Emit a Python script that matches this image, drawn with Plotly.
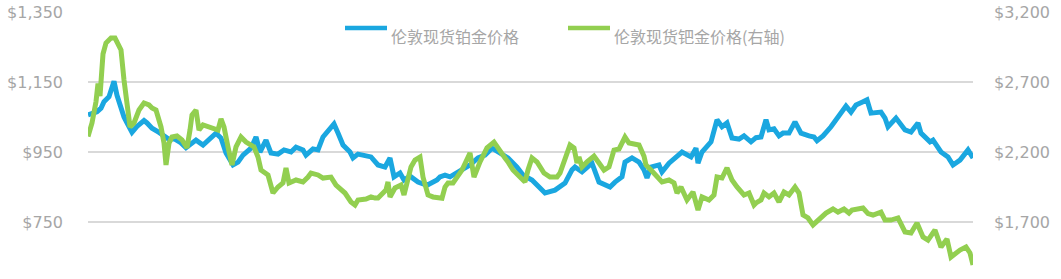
import plotly.graph_objects as go

# time offset (trading-day index) and London spot platinum price (left axis, USD/oz)
plat_t = [0, 9, 13, 16, 21, 26, 29, 33, 36, 39, 44, 49, 56, 59, 64, 71, 78, 81, 86, 93, 98, 103, 108,
          115, 123, 128, 133, 138, 145, 150, 155, 163, 168, 172, 178, 183, 190, 196, 203, 208, 215, 218,
          225, 230, 235, 242, 246, 250, 255, 262, 265, 270, 278, 283, 290, 297, 302, 306, 312, 316, 322,
          330, 339, 349, 352, 357, 362, 369, 375, 382, 390, 397, 404, 407, 414, 420, 429, 435, 444, 451,
          457, 467, 477, 484, 487, 494, 504, 511, 522, 527, 534, 537, 544, 551, 556, 559, 563, 571, 574,
          581, 588, 594, 603, 608, 610, 614, 623, 626, 629, 634, 639, 644, 651, 656, 663, 668, 673, 678,
          681, 686, 691, 695, 701, 707, 713, 721, 726, 729, 735, 743, 751, 758, 763, 768, 774, 779, 783,
          793, 797, 800, 808, 817, 823, 830, 833, 842, 845, 853, 860, 865, 872, 877, 880, 885]
plat = [1056, 1065, 1075, 1094, 1108, 1152, 1112, 1070, 1050, 1033, 1006, 1023, 1040, 1033, 1018, 1006,
        993, 986, 988, 976, 962, 974, 984, 970, 993, 1004, 990, 947, 913, 921, 941, 961, 993, 950, 984,
        947, 944, 956, 950, 964, 956, 941, 959, 956, 993, 1019, 1030, 1004, 970, 950, 933, 944, 941, 936,
        913, 907, 933, 879, 890, 870, 881, 864, 855, 870, 879, 884, 879, 890, 899, 913, 933, 941, 961,
        956, 941, 933, 907, 884, 870, 850, 833, 841, 861, 899, 907, 893, 918, 864, 850, 864, 879, 921,
        933, 921, 899, 876, 907, 913, 893, 918, 933, 950, 936, 961, 918, 950, 979, 1013, 1042, 1022,
        1033, 990, 987, 996, 979, 991, 993, 1042, 1013, 1016, 996, 1004, 1004, 1036, 1004, 996, 993,
        982, 996, 1022, 1056, 1081, 1064, 1084, 1092, 1099, 1061, 1064, 1047, 1022, 1047, 1013, 1007,
        1033, 1004, 979, 984, 950, 936, 913, 927, 944, 956, 933]

# London spot palladium price (right axis, USD/oz)
pall_t = [0, 4, 8, 10, 12, 15, 18, 23, 27, 29, 33, 36, 39, 42, 46, 51, 56, 61, 64, 68, 73, 76, 78, 81,
          84, 89, 94, 99, 102, 104, 108, 111, 115, 123, 130, 133, 136, 140, 144, 148, 153, 158, 163, 166,
          170, 173, 180, 185, 190, 195, 198, 201, 208, 215, 220, 223, 230, 235, 243, 248, 257, 263, 267,
          270, 278, 283, 287, 290, 295, 298, 300, 302, 307, 313, 316, 320, 323, 327, 332, 335, 340, 345,
          354, 357, 360, 365, 369, 374, 382, 386, 392, 399, 406, 412, 417, 420, 425, 432, 437, 440, 444,
          449, 456, 462, 469, 472, 477, 482, 486, 489, 491, 494, 499, 506, 511, 516, 521, 526, 531, 537,
          541, 546, 551, 556, 558, 563, 569, 574, 581, 586, 589, 593, 599, 605, 610, 614, 621, 626, 629,
          634, 639, 644, 649, 656, 661, 666, 668, 673, 676, 681, 686, 691, 696, 701, 707, 711, 715, 720,
          725, 731, 738, 745, 750, 756, 761, 764, 775, 780, 785, 793, 797, 803, 810, 817, 823, 829, 835,
          840, 847, 853, 859, 863, 872, 878, 882, 885]
pall = [2310, 2407, 2560, 2690, 2600, 2900, 2979, 3014, 3014, 2986, 2929, 2714, 2521, 2379, 2407, 2500,
        2550, 2536, 2514, 2500, 2379, 2264, 2107, 2264, 2307, 2314, 2286, 2229, 2357, 2464, 2500, 2357,
        2393, 2371, 2357, 2436, 2379, 2236, 2107, 2236, 2307, 2271, 2250, 2236, 2164, 2071, 2036, 1907,
        1950, 1979, 2086, 1979, 2000, 1986, 2021, 2050, 2036, 2014, 2021, 1964, 1907, 1843, 1821, 1857,
        1864, 1879, 1871, 1871, 1907, 1929, 1986, 1879, 1943, 1964, 1893, 2000, 2093, 2143, 2164, 2021,
        1893, 1879, 1870, 1950, 1979, 1979, 2021, 2071, 2193, 2021, 2129, 2229, 2271, 2200, 2157, 2129,
        2071, 2021, 1986, 2071, 2157, 2129, 2050, 2021, 2021, 2050, 2164, 2250, 2229, 2121, 2164, 2093,
        2129, 2171, 2121, 2071, 2093, 2214, 2221, 2307, 2264, 2257, 2250, 2170, 2107, 2071, 2021, 1986,
        2000, 1979, 1907, 1950, 1857, 1914, 1786, 1879, 1857, 1893, 2021, 2014, 2086, 2000, 1950, 1893,
        1907, 1821, 1836, 1857, 1907, 1879, 1907, 1843, 1914, 1893, 1950, 1907, 1750, 1729, 1679, 1714,
        1764, 1793, 1771, 1793, 1764, 1786, 1800, 1760, 1750, 1771, 1714, 1714, 1729, 1629, 1621, 1693,
        1593, 1571, 1643, 1521, 1579, 1450, 1500, 1521, 1479, 1393]

left_ticks = [750, 950, 1150, 1350]
left_labels = ["$750", "$950", "$1,150", "$1,350"]
right_ticks = [1700, 2200, 2700, 3200]
right_labels = ["$1,700", "$2,200", "$2,700", "$3,200"]

name_plat = "伦敦现货铂金价格"
name_pall = "伦敦现货钯金价格(右轴)"

BLUE = "#1aa7e0"
GREEN = "#92cf50"
GREY = "#a6a6a6"

W, H = 1061, 279
L, R, T, B = 88, 88, 12, 0

fig = go.Figure()
fig.add_trace(go.Scatter(x=plat_t, y=plat, name=name_plat, mode="lines",
                         line=dict(color=BLUE, width=5), yaxis="y"))
fig.add_trace(go.Scatter(x=pall_t, y=pall, name=name_pall, mode="lines",
                         line=dict(color=GREEN, width=5), yaxis="y2"))

pw = W - L - R
ph = H - T - B


def px(x):
    return (x - L) / pw


def py(y):
    return (H - B - y) / ph


# custom legend
shapes = []
annotations = []
for (x0, x1, tx, col, txt) in [(345, 387, 389, BLUE, name_plat), (568, 610, 612, GREEN, name_pall)]:
    shapes.append(dict(type="line", xref="paper", yref="paper", x0=px(x0), x1=px(x1),
                       y0=py(28), y1=py(28), line=dict(color=col, width=4.5)))
    annotations.append(dict(xref="paper", yref="paper", x=px(tx), y=py(35.5), text=txt,
                            showarrow=False, xanchor="left", yanchor="middle",
                            font=dict(family="Noto Sans CJK SC", size=16, color=GREY)))

fig.update_layout(
    width=W, height=H,
    margin=dict(l=L, r=R, t=T, b=B, pad=0),
    paper_bgcolor="white", plot_bgcolor="white",
    showlegend=False,
    shapes=shapes, annotations=annotations,
    xaxis=dict(range=[0, 885], visible=False, showgrid=False, zeroline=False),
    yaxis=dict(range=[587.14, 1350], tickvals=left_ticks, ticktext=left_labels,
               showgrid=True, gridcolor="#d9d9d9", gridwidth=1.5, zeroline=False,
               showline=False, ticks="", ticklabelstandoff=24,
               tickfont=dict(family="DejaVu Sans", size=16, color=GREY)),
    yaxis2=dict(range=[1292.9, 3200], tickvals=right_ticks, ticktext=right_labels,
                overlaying="y", side="right", showgrid=False, zeroline=False,
                showline=False, ticks="", ticklabelstandoff=20,
                tickfont=dict(family="DejaVu Sans", size=16, color=GREY)),
)

fig.write_html("out.html")
